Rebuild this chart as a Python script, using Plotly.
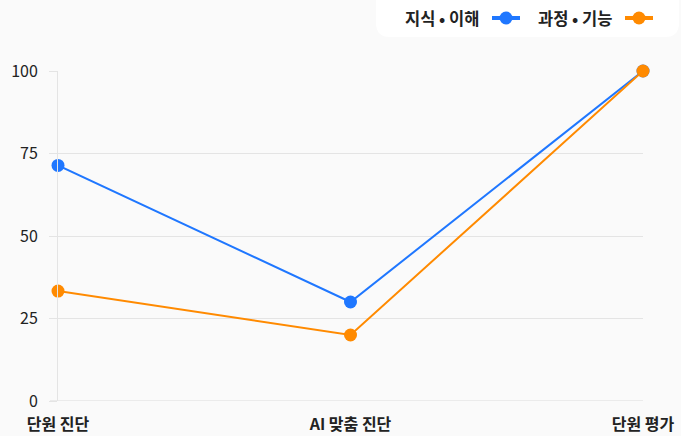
import plotly.graph_objects as go

# Data
categories = ["단원 진단", "AI 맞춤 진단", "단원 평가"]
knowledge = [71.4, 30, 100]   # 지식 • 이해
process = [33.3, 20, 100]     # 과정 • 기능
series_names = ["지식 • 이해", "과정 • 기능"]
y_ticks = [0, 25, 50, 75, 100]

BLUE = "#1f77ff"
ORANGE = "#ff8a00"
FONT = "Noto Sans CJK KR"

W, H = 681, 436
L, R, T, B = 58, 38, 71, 35
PW, PH = W - L - R, H - T - B


def px(x):
    return (x - L) / PW


def py(y):
    return (H - B - y) / PH


fig = go.Figure()
for name, vals, col in [(series_names[0], knowledge, BLUE), (series_names[1], process, ORANGE)]:
    fig.add_trace(go.Scatter(
        x=categories, y=vals, name=name, mode="lines+markers",
        line=dict(color=col, width=2),
        marker=dict(color=col, size=13),
        cliponaxis=False, showlegend=False,
    ))

shapes = []
annotations = []

# legend panel: white rounded box in the top-right corner
x0, x1, y0, y1, r = px(376), px(679), py(37), py(-20), 14
rx, ry = r / PW, r / PH
shapes.append(dict(
    type="path", xref="paper", yref="paper",
    path=(f"M {x0+rx},{y1} L {x1-rx},{y1} Q {x1},{y1} {x1},{y1-ry} "
          f"L {x1},{y0+ry} Q {x1},{y0} {x1-rx},{y0} L {x0+rx},{y0} "
          f"Q {x0},{y0} {x0},{y0+ry} L {x0},{y1-ry} Q {x0},{y1} {x0+rx},{y1} Z"),
    fillcolor="white", line=dict(width=0), layer="below",
))

legend_items = [
    (series_names[0], BLUE, 481, 492, 520),
    (series_names[1], ORANGE, 614, 625, 653),
]
ly = 18
for label, col, text_right, sx0, sx1 in legend_items:
    annotations.append(dict(
        x=px(text_right), y=py(ly), xref="paper", yref="paper",
        text=f"<b>{label}</b>", showarrow=False, xanchor="right", yanchor="middle",
        font=dict(family=FONT, size=16.5, color="#222222"),
    ))
    shapes.append(dict(type="line", xref="paper", yref="paper",
                       x0=px(sx0), x1=px(sx1), y0=py(ly), y1=py(ly),
                       line=dict(color=col, width=4)))
    cx, rr = (sx0 + sx1) / 2, 6.5
    shapes.append(dict(type="circle", xref="paper", yref="paper",
                       x0=px(cx - rr), x1=px(cx + rr), y0=py(ly + rr), y1=py(ly - rr),
                       fillcolor=col, line=dict(width=0)))

fig.update_layout(
    width=W, height=H,
    margin=dict(l=L, r=R, t=T, b=B, pad=0, autoexpand=False),
    paper_bgcolor="#fafafa", plot_bgcolor="#fafafa",
    font=dict(family=FONT, color="#222222"),
    shapes=shapes, annotations=annotations,
    showlegend=False,
    xaxis=dict(
        type="category", range=[0, 2], showgrid=False, zeroline=False,
        showline=False, ticks="", ticklabelstandoff=12, automargin=False,
        tickfont=dict(family=FONT, size=16, color="#222222", weight="bold"),
        fixedrange=True,
    ),
    yaxis=dict(
        range=[0, 100], tickvals=y_ticks, showgrid=True, gridcolor="#e4e4e4",
        gridwidth=1, zeroline=False, showline=True, linecolor="#e4e4e4",
        ticks="outside", ticklen=8, tickcolor="#e4e4e4", ticklabelstandoff=8,
        automargin=False,
        tickfont=dict(family=FONT, size=16, color="#222222"),
        fixedrange=True,
    ),
)

# baseline at zero spanning plot width
fig.add_shape(type="line", xref="paper", yref="y", x0=px(50), x1=1, y0=0, y1=0,
              line=dict(color="#dcdcdc", width=1), layer="below")

fig.write_html("out.html")
